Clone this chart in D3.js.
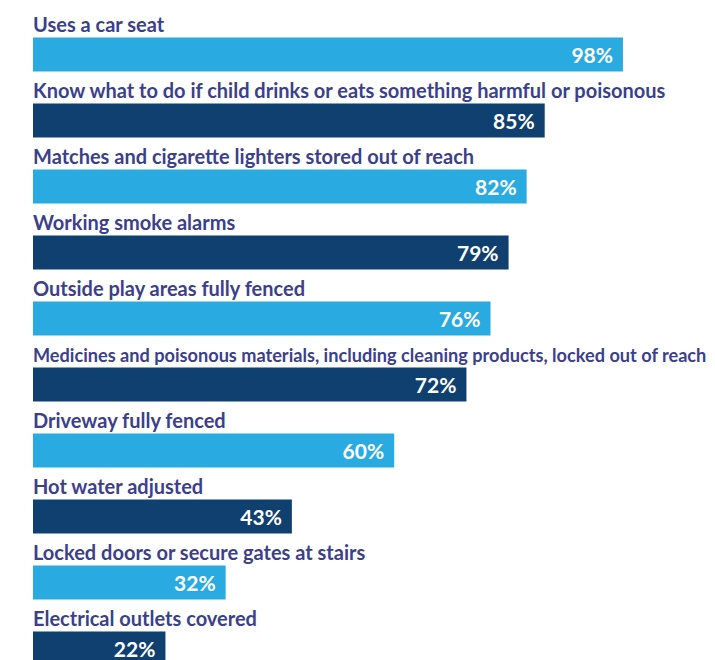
<!DOCTYPE html>
<html>
<head>
<meta charset="utf-8">
<script src="https://cdn.jsdelivr.net/npm/d3@7"></script>
<style>
  body { margin: 0; background: #fff; }
  text { font-family: Lato, "Open Sans", sans-serif; }
</style>
</head>
<body>
<div id="chart-area"></div>
<script>
// Data
let categories = [
  'Uses a car seat',
  'Know what to do if child drinks or eats something harmful or poisonous',
  'Matches and cigarette lighters stored out of reach',
  'Working smoke alarms',
  'Outside play areas fully fenced',
  'Medicines and poisonous materials, including cleaning products, locked out of reach',
  'Driveway fully fenced',
  'Hot water adjusted',
  'Locked doors or secure gates at stairs',
  'Electrical outlets covered'
]
let values = [98, 85, 82, 79, 76, 72, 60, 43, 32, 22]

let width = 715
let height = 660
let margin = { left: 33, top: 37.5 }
let labelSize = 20
let maxLabelWidth = width - margin.left - 8

let svg = d3.select('#chart-area').append('svg')
  .attr('width', width)
  .attr('height', height)

let g = svg.append('g')
  .attr('transform', 'translate(' + margin.left + ', ' + margin.top + ')')

// Scales
let x = d3.scaleLinear().domain([0, 100]).range([0, 602])
let y = d3.scaleBand()
  .domain(categories)
  .range([0, 66 * categories.length])
  .paddingInner(0)

let rowData = categories.map((c, i) => ({ label: c, value: values[i], i: i }))

let rows = g.selectAll('.row').data(rowData).enter().append('g')
  .attr('class', 'row')
  .attr('transform', (d) => 'translate(0, ' + y(d.label) + ')')

rows.append('rect')
  .attr('x', 0)
  .attr('y', 0)
  .attr('width', (d) => x(d.value))
  .attr('height', 34)
  .attr('fill', (d) => d.i % 2 === 0 ? '#29abe2' : '#10406f')

// category labels above bars
rows.append('text')
  .attr('x', 0)
  .attr('y', -5.5)
  .attr('fill', '#3b3f8c')
  .attr('font-size', labelSize + 'px')
  .attr('font-weight', 'bold')
  .text((d) => d.label)
  .each(function () {
    // shrink labels that would run off the page
    let w = this.getComputedTextLength()
    if (w > maxLabelWidth) {
      d3.select(this).attr('font-size', (labelSize * maxLabelWidth / w) + 'px')
    }
  })

// value labels inside bars
rows.append('text')
  .attr('x', (d) => x(d.value) - 10)
  .attr('y', 25.5)
  .attr('text-anchor', 'end')
  .attr('fill', '#fff')
  .attr('font-size', '21px')
  .attr('font-weight', 'bold')
  .text((d) => d.value + '%')
</script>
</body>
</html>
